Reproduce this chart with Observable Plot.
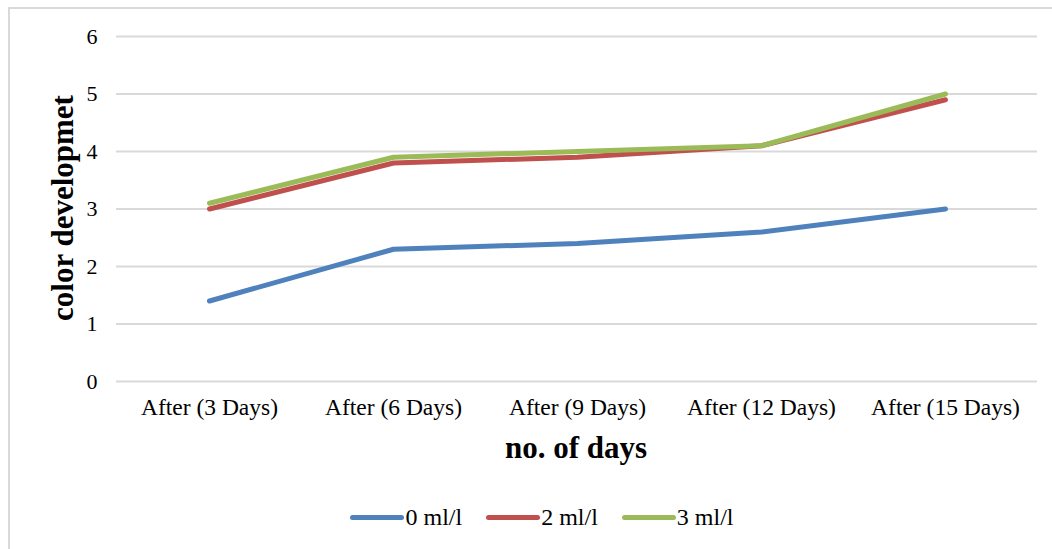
<!DOCTYPE html>
<html>
<head>
<meta charset="utf-8">
<script src="https://cdn.jsdelivr.net/npm/d3@7"></script>
<script src="https://cdn.jsdelivr.net/npm/@observablehq/plot@0.6"></script>
<style>
  html, body { margin: 0; padding: 0; background: #fff; overflow: hidden; }
  #wrap { width: 1052px; height: 549px; position: relative; overflow: hidden; font-family: "Liberation Serif", "Times New Roman", serif; }
  #frame { position: absolute; left: 8px; top: 7px; width: 3000px; height: 3000px; border-left: 2px solid #d9d9d9; border-top: 2px solid #d9d9d9; }
  #chart { position: absolute; left: 0; top: 0; }
  #ylabel { position: absolute; left: 63px; top: 208px; transform: translate(-50%, -50%) rotate(-90deg); font-weight: bold; font-size: 31px; white-space: nowrap; color: #000; }
  #xlabel { position: absolute; left: 576px; top: 448px; transform: translate(-50%, -50%); font-weight: bold; font-size: 31px; white-space: nowrap; color: #000; }
  #legend { position: absolute; left: 0; width: 1084px; top: 504px; display: flex; justify-content: center; gap: 24px; font-size: 24px; color: #000; }
  .item { display: flex; align-items: center; }
  .sw { width: 54px; height: 5px; border-radius: 3px; margin-right: 1px; }
</style>
</head>
<body>
<div id="wrap">
<div id="frame"></div>
<div id="chart"></div>
<div id="ylabel">color developmet</div>
<div id="xlabel">no. of days</div>
<div id="legend"></div>
</div>
<script>
const days = ["After (3 Days)", "After (6 Days)", "After (9 Days)", "After (12 Days)", "After (15 Days)"];
const seriesNames = ["0 ml/l", "2 ml/l", "3 ml/l"];
const seriesColors = ["#4F81BD", "#C0504D", "#9BBB59"];
const values0 = [1.4, 2.3, 2.4, 2.6, 3.0];
const values2 = [3.0, 3.8, 3.9, 4.1, 4.9];
const values3 = [3.1, 3.9, 4.0, 4.1, 5.0];
const yTicks = [0, 1, 2, 3, 4, 5, 6];

const allValues = [values0, values2, values3];
const data = [];
seriesNames.forEach((s, i) => days.forEach((d, j) => data.push({series: s, day: d, value: allValues[i][j]})));

const chart = Plot.plot({
  width: 1052,
  height: 470,
  marginLeft: 116,
  marginRight: 15,
  marginTop: 36,
  marginBottom: 89,
  style: { fontFamily: "Liberation Serif, Times New Roman, serif", background: "transparent", overflow: "visible" },
  x: { type: "point", domain: days, padding: 0.5, label: null },
  y: { domain: [0, 6], ticks: yTicks, label: null },
  color: { domain: seriesNames, range: seriesColors },
  marks: [
    Plot.gridY(yTicks, { stroke: "#d9d9d9", strokeOpacity: 1, strokeWidth: 2 }),
    Plot.axisX({ tickSize: 0, tickPadding: 17, fontSize: 23.5, label: null, fill: "#000" }),
    Plot.axisY(yTicks, { tickSize: 0, tickPadding: 19, fontSize: 22, label: null, fill: "#000", tickFormat: d3.format("d") }),
    Plot.line(data, { x: "day", y: "value", z: "series", stroke: "series", strokeWidth: 5, strokeLinecap: "round", strokeLinejoin: "round" })
  ]
});
document.getElementById("chart").appendChild(chart);

const legend = document.getElementById("legend");
seriesNames.forEach((s, i) => {
  const it = document.createElement("div");
  it.className = "item";
  const sw = document.createElement("div");
  sw.className = "sw";
  sw.style.background = seriesColors[i];
  const t = document.createElement("span");
  t.textContent = s;
  it.appendChild(sw); it.appendChild(t);
  legend.appendChild(it);
});
</script>
</body>
</html>
